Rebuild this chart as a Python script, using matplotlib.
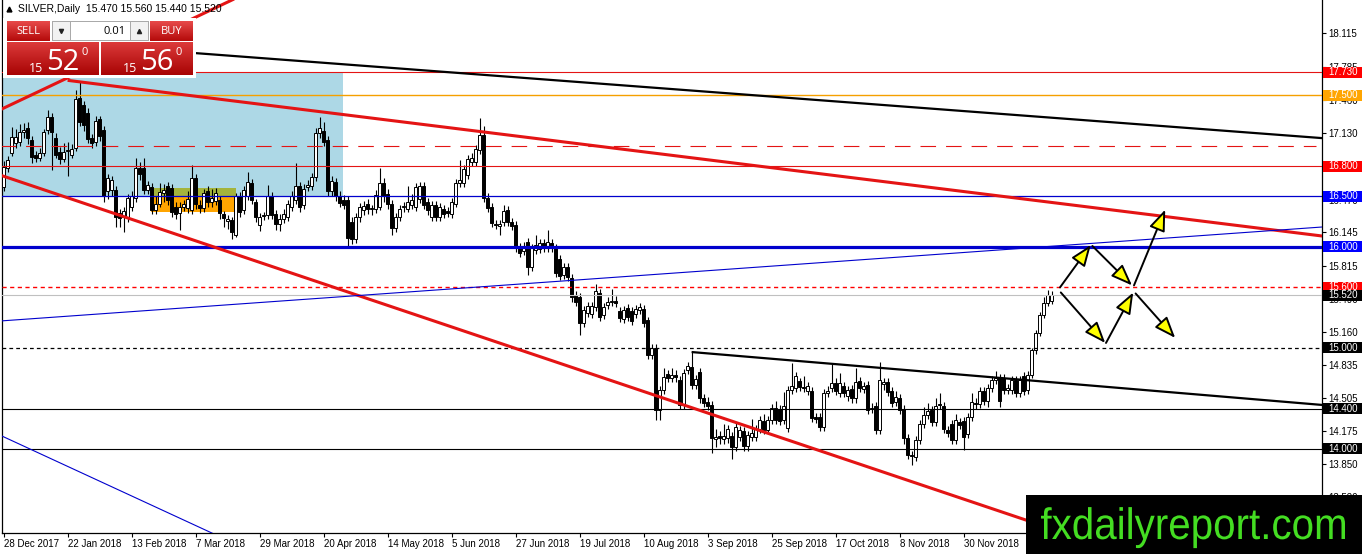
import numpy as np
import matplotlib
matplotlib.use("Agg")
import matplotlib.pyplot as plt
from matplotlib.patches import Rectangle, PathPatch
from matplotlib.textpath import TextPath
from matplotlib.font_manager import FontProperties
from matplotlib.transforms import Affine2D, blended_transform_factory
from matplotlib.colors import LinearSegmentedColormap

plt.rcParams['font.family'] = ['Liberation Sans', 'DejaVu Sans']

# daily SILVER candles, bar 0 = 28 Dec 2017
opens = [
    16.59, 16.78, 16.93, 17.03, 17.04, 17.14, 17.18, 17.06, 16.91, 16.88,
    16.93, 17.16, 17.29, 17.08, 16.94, 16.87, 16.95, 16.91, 16.98, 17.48,
    17.41, 17.33, 17.08, 17.04, 17.27, 17.16, 16.55, 16.56, 16.56, 16.34,
    16.30, 16.29, 16.40, 16.49, 16.78, 16.78, 16.56, 16.59, 16.37, 16.43,
    16.53, 16.60, 16.58, 16.40, 16.34, 16.40, 16.39, 16.37, 16.68, 16.42,
    16.39, 16.55, 16.45, 16.46, 16.47, 16.33, 16.26, 16.27, 16.12, 16.50,
    16.37, 16.50, 16.63, 16.45, 16.22, 16.31, 16.32, 16.50, 16.33, 16.23,
    16.28, 16.30, 16.40, 16.47, 16.60, 16.42, 16.59, 16.60, 16.69, 17.13,
    17.15, 17.06, 16.55, 16.64, 16.50, 16.47, 16.47, 16.25, 16.08, 16.30,
    16.37, 16.43, 16.38, 16.38, 16.40, 16.63, 16.52, 16.43, 16.19, 16.30,
    16.40, 16.38, 16.42, 16.40, 16.48, 16.60, 16.45, 16.30, 16.42, 16.30,
    16.38, 16.36, 16.33, 16.43, 16.63, 16.63, 16.71, 16.84, 16.84, 16.96,
    17.11, 16.49, 16.40, 16.23, 16.21, 16.25, 16.37, 16.25, 16.22, 16.00,
    15.96, 16.05, 15.80, 15.97, 15.98, 16.04, 15.99, 16.04, 15.99, 15.88,
    15.72, 15.80, 15.69, 15.52, 15.50, 15.25, 15.35, 15.34, 15.41, 15.54,
    15.33, 15.43, 15.46, 15.47, 15.37, 15.29, 15.40, 15.37, 15.34, 15.38,
    15.39, 15.28, 14.93, 15.00, 14.39, 14.58, 14.74, 14.70, 14.73, 14.68,
    14.44, 14.78, 14.81, 14.63, 14.76, 14.50, 14.47, 14.44, 14.10, 14.13,
    14.10, 14.11, 14.13, 14.02, 14.12, 14.18, 14.03, 14.12, 14.12, 14.20,
    14.28, 14.19, 14.29, 14.41, 14.40, 14.29, 14.21, 14.58, 14.60, 14.67,
    14.61, 14.57, 14.57, 14.32, 14.32, 14.22, 14.55, 14.60, 14.65, 14.55,
    14.62, 14.52, 14.59, 14.50, 14.67, 14.59, 14.63, 14.40, 14.43, 14.19,
    14.64, 14.66, 14.57, 14.47, 14.50, 14.40, 14.11, 13.94, 13.92, 14.09,
    14.25, 14.34, 14.39, 14.27, 14.45, 14.43, 14.19, 14.25, 14.09, 14.27,
    14.28, 14.15, 14.32, 14.46, 14.45, 14.57, 14.48, 14.60, 14.68, 14.70,
    14.70, 14.58, 14.58, 14.68, 14.55, 14.72, 14.58, 14.73, 14.98, 15.15,
    15.33, 15.45, 15.47]
highs = [
    16.85, 16.90, 17.19, 17.17, 17.22, 17.23, 17.24, 17.10, 16.95, 16.98,
    17.17, 17.36, 17.33, 17.13, 16.99, 17.03, 17.04, 17.02, 17.55, 17.63,
    17.45, 17.38, 17.12, 17.30, 17.30, 17.20, 16.72, 16.70, 16.60, 16.38,
    16.40, 16.52, 16.55, 16.88, 16.84, 16.88, 16.65, 16.63, 16.50, 16.63,
    16.62, 16.64, 16.62, 16.45, 16.45, 16.47, 16.55, 16.81, 16.72, 16.47,
    16.57, 16.60, 16.57, 16.58, 16.50, 16.36, 16.32, 16.30, 16.53, 16.54,
    16.60, 16.74, 16.67, 16.48, 16.34, 16.35, 16.61, 16.54, 16.37, 16.33,
    16.38, 16.47, 16.55, 16.83, 16.64, 16.62, 16.66, 16.73, 17.18, 17.29,
    17.24, 17.10, 16.70, 16.68, 16.55, 16.51, 16.50, 16.30, 16.34, 16.44,
    16.46, 16.48, 16.42, 16.56, 16.78, 16.68, 16.57, 16.47, 16.34, 16.42,
    16.45, 16.60, 16.52, 16.63, 16.64, 16.64, 16.49, 16.46, 16.46, 16.44,
    16.42, 16.40, 16.49, 16.67, 16.86, 16.81, 16.91, 16.93, 17.01, 17.28,
    17.20, 16.53, 16.44, 16.27, 16.27, 16.42, 16.41, 16.29, 16.26, 16.04,
    16.05, 16.09, 16.03, 16.12, 16.08, 16.08, 16.17, 16.08, 16.03, 15.92,
    15.84, 15.84, 15.73, 15.56, 15.54, 15.42, 15.46, 15.46, 15.63, 15.58,
    15.45, 15.50, 15.58, 15.51, 15.41, 15.42, 15.44, 15.41, 15.43, 15.45,
    15.43, 15.31, 15.04, 15.04, 14.62, 14.80, 14.78, 14.80, 14.78, 14.72,
    14.79, 14.86, 14.96, 14.73, 14.80, 14.54, 14.51, 14.48, 14.20, 14.18,
    14.25, 14.24, 14.17, 14.26, 14.23, 14.22, 14.18, 14.30, 14.24, 14.33,
    14.35, 14.33, 14.45, 14.48, 14.44, 14.56, 14.62, 14.85, 14.76, 14.70,
    14.72, 14.66, 14.61, 14.36, 14.36, 14.59, 14.62, 14.85, 14.70, 14.75,
    14.66, 14.62, 14.63, 14.80, 14.71, 14.66, 14.67, 14.46, 14.47, 14.86,
    14.70, 14.70, 14.61, 14.57, 14.54, 14.44, 14.15, 13.98, 14.13, 14.29,
    14.42, 14.46, 14.43, 14.50, 14.55, 14.47, 14.23, 14.29, 14.35, 14.31,
    14.32, 14.36, 14.55, 14.50, 14.61, 14.61, 14.64, 14.72, 14.77, 14.74,
    14.74, 14.64, 14.72, 14.72, 14.72, 14.76, 14.77, 15.00, 15.18, 15.36,
    15.50, 15.57, 15.56]
lows = [
    16.55, 16.74, 16.90, 16.98, 17.00, 17.08, 17.02, 16.83, 16.84, 16.85,
    16.90, 17.12, 16.76, 16.88, 16.82, 16.84, 16.70, 16.88, 16.95, 17.20,
    17.15, 17.03, 16.98, 17.00, 17.05, 16.45, 16.48, 16.50, 16.20, 16.20,
    16.15, 16.25, 16.36, 16.45, 16.66, 16.52, 16.52, 16.33, 16.33, 16.40,
    16.45, 16.42, 16.30, 16.28, 16.17, 16.36, 16.34, 16.33, 16.38, 16.34,
    16.35, 16.40, 16.40, 16.42, 16.28, 16.20, 16.18, 16.08, 16.10, 16.30,
    16.33, 16.47, 16.43, 16.25, 16.16, 16.27, 16.28, 16.28, 16.17, 16.16,
    16.24, 16.26, 16.36, 16.43, 16.35, 16.38, 16.55, 16.56, 16.65, 17.08,
    17.00, 16.50, 16.50, 16.46, 16.40, 16.38, 16.00, 16.03, 16.04, 16.25,
    16.32, 16.33, 16.32, 16.34, 16.37, 16.45, 16.38, 16.12, 16.15, 16.26,
    16.35, 16.35, 16.38, 16.36, 16.44, 16.38, 16.32, 16.26, 16.26, 16.26,
    16.29, 16.30, 16.29, 16.40, 16.59, 16.59, 16.67, 16.80, 16.80, 16.92,
    16.45, 16.35, 16.20, 16.18, 16.12, 16.21, 16.21, 16.17, 15.95, 15.90,
    15.92, 15.72, 15.76, 15.93, 15.94, 15.95, 15.95, 15.95, 15.70, 15.67,
    15.68, 15.66, 15.46, 15.42, 15.13, 15.21, 15.31, 15.30, 15.37, 15.27,
    15.29, 15.39, 15.42, 15.41, 15.26, 15.25, 15.27, 15.23, 15.30, 15.34,
    15.21, 14.89, 14.89, 14.29, 14.29, 14.54, 14.66, 14.66, 14.66, 14.40,
    14.40, 14.74, 14.59, 14.59, 14.46, 14.42, 14.39, 13.96, 14.02, 14.05,
    14.05, 14.06, 13.90, 13.98, 14.08, 13.98, 13.98, 14.08, 14.08, 14.16,
    14.15, 14.15, 14.25, 14.25, 14.24, 14.25, 14.17, 14.54, 14.56, 14.57,
    14.56, 14.53, 14.27, 14.26, 14.18, 14.18, 14.51, 14.56, 14.53, 14.51,
    14.51, 14.48, 14.46, 14.46, 14.56, 14.55, 14.35, 14.36, 14.15, 14.15,
    14.58, 14.52, 14.42, 14.43, 14.35, 14.05, 13.90, 13.84, 13.88, 14.05,
    14.21, 14.30, 14.23, 14.23, 14.40, 14.16, 14.12, 14.05, 14.05, 14.20,
    13.99, 14.11, 14.28, 14.40, 14.41, 14.44, 14.42, 14.56, 14.64, 14.42,
    14.54, 14.54, 14.54, 14.51, 14.51, 14.53, 14.54, 14.70, 14.94, 15.12,
    15.30, 15.42, 15.44]
closes = [
    16.79, 16.86, 17.09, 17.09, 17.14, 17.16, 17.08, 16.89, 16.88, 16.93,
    17.14, 17.29, 17.14, 16.91, 16.87, 16.94, 16.96, 16.97, 17.47, 17.24,
    17.21, 17.07, 17.03, 17.25, 17.10, 16.50, 16.68, 16.66, 16.30, 16.29,
    16.36, 16.49, 16.50, 16.78, 16.72, 16.56, 16.61, 16.37, 16.43, 16.54,
    16.56, 16.47, 16.35, 16.33, 16.40, 16.43, 16.48, 16.68, 16.43, 16.39,
    16.53, 16.45, 16.49, 16.53, 16.34, 16.29, 16.28, 16.15, 16.50, 16.35,
    16.56, 16.64, 16.47, 16.30, 16.30, 16.31, 16.50, 16.32, 16.23, 16.28,
    16.33, 16.43, 16.50, 16.60, 16.40, 16.57, 16.61, 16.69, 17.13, 17.18,
    17.04, 16.55, 16.65, 16.50, 16.44, 16.42, 16.09, 16.08, 16.30, 16.40,
    16.41, 16.38, 16.39, 16.51, 16.63, 16.50, 16.43, 16.19, 16.30, 16.38,
    16.41, 16.45, 16.47, 16.59, 16.60, 16.42, 16.37, 16.42, 16.30, 16.40,
    16.33, 16.34, 16.45, 16.63, 16.66, 16.77, 16.87, 16.88, 16.97, 17.11,
    16.49, 16.39, 16.24, 16.22, 16.23, 16.36, 16.25, 16.21, 15.99, 15.94,
    16.01, 15.80, 15.99, 16.02, 16.04, 15.99, 16.05, 15.99, 15.74, 15.71,
    15.80, 15.70, 15.50, 15.46, 15.25, 15.38, 15.42, 15.42, 15.56, 15.31,
    15.41, 15.46, 15.47, 15.45, 15.30, 15.38, 15.31, 15.27, 15.39, 15.41,
    15.25, 14.93, 15.00, 14.39, 14.58, 14.71, 14.70, 14.73, 14.71, 14.44,
    14.75, 14.82, 14.63, 14.69, 14.50, 14.46, 14.43, 14.11, 14.12, 14.11,
    14.13, 14.20, 14.02, 14.22, 14.19, 14.03, 14.14, 14.16, 14.20, 14.29,
    14.19, 14.29, 14.41, 14.29, 14.28, 14.43, 14.58, 14.62, 14.72, 14.61,
    14.60, 14.62, 14.31, 14.30, 14.22, 14.55, 14.57, 14.65, 14.57, 14.65,
    14.55, 14.58, 14.50, 14.66, 14.60, 14.62, 14.39, 14.41, 14.19, 14.68,
    14.66, 14.56, 14.46, 14.51, 14.39, 14.11, 13.94, 13.93, 14.09, 14.25,
    14.34, 14.38, 14.27, 14.43, 14.44, 14.20, 14.16, 14.09, 14.29, 14.24,
    14.12, 14.32, 14.47, 14.45, 14.57, 14.48, 14.60, 14.68, 14.70, 14.48,
    14.58, 14.60, 14.68, 14.55, 14.68, 14.57, 14.73, 14.98, 15.15, 15.33,
    15.45, 15.52, 15.52]

date_labels = ['28 Dec 2017', '22 Jan 2018', '13 Feb 2018', '7 Mar 2018',
               '29 Mar 2018', '20 Apr 2018', '14 May 2018', '5 Jun 2018',
               '27 Jun 2018', '19 Jul 2018', '10 Aug 2018', '3 Sep 2018',
               '25 Sep 2018', '17 Oct 2018', '8 Nov 2018', '30 Nov 2018']
bars_per_label = 16

price_ticks = [18.115, 17.785, 17.460, 17.130, 16.800, 16.470, 16.145, 15.815,
               15.490, 15.160, 14.835, 14.505, 14.175, 13.850, 13.520]

# levels drawn across the chart, with a tag on the price scale
tag_prices = [17.73, 17.50, 16.80, 16.50, 16.00, 15.60, 15.00, 14.40, 14.00]
dashed_level = 17.00
ask_price = 15.56

# trend lines as (bar, price) end points
red_upper = ([16, 330], [17.65, 16.107])
red_rising = ([-1, 60], [17.356, 18.50])
red_lower = ([-1, 300], [16.714, 12.705])
black_top = ([-1, 330], [18.066, 17.077])
black_low = ([172, 330], [14.96, 14.435])
blue_rising = ([-1, 330], [15.267, 16.199])
blue_low = ([-1, 60], [14.139, 13.023])

# zones (bar0, bar1, price0, price1)
zone_blue = (-1, 84.85, 16.50, 17.73)
zone_orange = (36.85, 58.1, 16.35, 16.50)
zone_olive = (36.85, 58.1, 16.50, 16.58)

# scenario arrows (bar0, price0, bar1, price1)
scenario = [
    (264.1, 15.60, 271.8, 16.02),
    (272.2, 16.01, 282.1, 15.62),
    (282.6, 15.62, 290.4, 16.37),
    (264.3, 15.55, 275.4, 15.05),
    (275.6, 15.05, 282.4, 15.55),
    (283.0, 15.54, 292.9, 15.10),
]

# ---------------------------------------------------------------
W, H = 1362, 554
fig = plt.figure(figsize=(W / 100, H / 100), dpi=100)
fig.patch.set_facecolor('white')
ax = fig.add_axes([2 / W, (H - 533) / H, 1320 / W, 533 / H])
ax.set_xlim(-0.4, 329.6)
ax.set_ylim(16 - 286 / 101, 16 + 247 / 101)

red = '#e41414'
blue = '#0000cd'

# zones
for (b0, b1, p0, p1), col in zip([zone_blue, zone_orange, zone_olive],
                                 ['#add8e6', '#ffa500', '#a4b43c']):
    ax.add_patch(Rectangle((b0, p0), b1 - b0, p1 - p0, facecolor=col,
                           edgecolor='none', zorder=1))

# candles
n = min(len(opens), len(highs), len(lows), len(closes))
o = np.array(opens[:n]); h = np.array(highs[:n])
l = np.array(lows[:n]); c = np.array(closes[:n])
idx = np.arange(n)
ax.vlines(idx, l, h, color='black', lw=0.8, zorder=3)
body_lo = np.minimum(o, c)
body_h = np.maximum(np.abs(c - o), 0.01)
body_col = ['white' if cc >= oo else 'black' for oo, cc in zip(o, c)]
ax.bar(idx, body_h, bottom=body_lo, width=0.62, color=body_col,
       edgecolor='black', linewidth=0.7, zorder=3.2)

# horizontal levels
level_colors = [red, '#f5a000', red, blue, blue, '#ff0000', 'black', 'black', 'black']
level_widths = [0.8, 1.0, 0.8, 0.9, 2.3, 1.0, 0.9, 0.8, 0.8]
level_styles = ['-', '-', '-', '-', '-', (0, (3, 2.5)), (0, (3, 2.5)), '-', '-']
for p, col, lw, ls in zip(tag_prices, level_colors, level_widths, level_styles):
    ax.axhline(p, color=col, lw=lw, ls=ls, zorder=4)
ax.axhline(c[-1], color='#c0c0c0', lw=0.8, zorder=3.9)
ax.hlines(dashed_level, -1, 328, color=red, lw=0.8, ls=(0, (14, 9)), zorder=4)

# trend lines
for (xs, ys), col, lw in [(red_upper, red, 2.2), (red_rising, red, 2.2),
                          (red_lower, red, 2.2), (black_top, 'black', 1.6),
                          (black_low, 'black', 1.6), (blue_rising, blue, 0.8),
                          (blue_low, blue, 0.8)]:
    ax.plot(xs, ys, color=col, lw=lw, zorder=4.5, solid_capstyle='butt')

# scenario arrows
for b0, p0, b1, p1 in scenario:
    ax.annotate('', xy=(b1, p1), xytext=(b0, p0),
                arrowprops=dict(arrowstyle='-|>,head_length=1.3,head_width=0.5',
                                facecolor='yellow', edgecolor='black', lw=1.4,
                                shrinkA=0, shrinkB=0, mutation_scale=10),
                zorder=6)

# axes look
ax.spines['top'].set_visible(False)
for side in ['left', 'bottom', 'right']:
    ax.spines[side].set_linewidth(0.9)
ax.yaxis.tick_right()
ax.set_yticks(price_ticks)
ax.set_yticklabels([f'{t:.3f}' for t in price_ticks])
ax.set_xticks(np.arange(len(date_labels)) * bars_per_label)
ax.set_xticklabels(date_labels)
for lbl in ax.get_xticklabels():
    lbl.set_ha('left')
ax.tick_params(axis='both', direction='out', length=3, width=0.8,
               labelsize=7, pad=1.5, colors='black')

# price tags on the scale (drawn over the tick labels they hide)
trans = blended_transform_factory(ax.transAxes, ax.transData)
tag_colors = ['#ff0000', '#ffa500', '#ff0000', '#0000ff', '#0000ff', '#ff0000',
              'black', 'black', 'black']
half_h = 5.5 / 101
for p, col in zip(tag_prices + [c[-1]], tag_colors + ['black']):
    ax.add_patch(Rectangle((1.0008, p - half_h), 39 / 1320, 2 * half_h,
                           transform=trans, facecolor=col, edgecolor='none',
                           clip_on=False, zorder=8))
    ax.text(1.0045, p, f'{p:.3f}', transform=trans, color='white', fontsize=7,
            ha='left', va='center', clip_on=False, zorder=9)

# ---------------------------------------------------------------
# overlay in pixel coordinates: header, trade panel, watermark
ov = fig.add_axes([0, 0, 1, 1], zorder=10)
ov.patch.set_alpha(0)
ov.axis('off')

ov.plot(8.5, 8.8, marker='^', ms=3.5, color='black', zorder=12)
ov.text(18, 8.5, f'SILVER,Daily  {o[-1]:.3f} {h[-1]:.3f} {l[-1]:.3f} {c[-1]:.3f}',
        fontsize=7.5, va='center', ha='left', zorder=12)

ov.add_patch(Rectangle((3, 18), 193, 60, facecolor='white', edgecolor='none', zorder=11))


def red_box(x0, y0, x1, y1, top='#e84a4a', bottom='#b40a0a'):
    cmap = LinearSegmentedColormap.from_list('btn', [top, bottom])
    ov.imshow(np.linspace(0, 1, 64).reshape(-1, 1), extent=(x0, x1, y1, y0),
              cmap=cmap, aspect='auto', origin='upper', zorder=12,
              interpolation='bilinear')


red_box(7, 21, 50, 41)
red_box(150, 21, 193, 41)
red_box(7, 42, 99, 75, top='#dc3a3a', bottom='#a80404')
red_box(101, 42, 193, 75, top='#dc3a3a', bottom='#a80404')

panel_font = ['Open Sans', 'DejaVu Sans']
ov.text(28.5, 31, 'SELL', color='white', fontsize=8, ha='center', va='center',
        family=panel_font, zorder=13)
ov.text(171.5, 31, 'BUY', color='white', fontsize=8, ha='center', va='center',
        family=panel_font, zorder=13)
ov.add_patch(Rectangle((52, 21), 96, 19, facecolor='white', edgecolor='#a8a8a8',
                       lw=0.7, zorder=12))
for bx in (52, 130):
    ov.add_patch(Rectangle((bx, 21), 18, 19, facecolor='#f2f2f2', edgecolor='#a8a8a8',
                           lw=0.7, zorder=12.5))
ov.plot(61, 31, marker='v', ms=3, color='#222222', zorder=13)
ov.plot(139, 31, marker='^', ms=3, color='#222222', zorder=13)
ov.text(126, 31, '0.01', fontsize=8, ha='right', va='center', family=panel_font,
        zorder=13)

bid_s = f'{c[-1]:.3f}'
ask_s = f'{ask_price:.3f}'
for s, x_mid in [(bid_s, 46), (ask_s, 140)]:
    ov.text(x_mid - 3, 72, s[:2], color='white', fontsize=9, ha='right',
            va='baseline', family=panel_font, zorder=13)
    ov.text(x_mid, 70, s[3:5], color='white', fontsize=21, ha='left',
            va='baseline', family=panel_font, zorder=13)
    ov.text(x_mid + 36, 55, s[5], color='white', fontsize=8, ha='left',
            va='baseline', family=panel_font, zorder=13)

# watermark
ov.add_patch(Rectangle((1026, 495), W - 1026, H - 495, facecolor='black',
                       edgecolor='none', zorder=20))
tp = TextPath((0, 0), 'fxdailyreport.com', size=1,
              prop=FontProperties(family='Liberation Sans'))
ext = tp.get_extents()
sx = 304 / ext.width
tr = Affine2D().translate(-ext.x0, 0).scale(sx, -44).translate(1041, 539) + ov.transData
ov.add_patch(PathPatch(tp, transform=tr, facecolor='#44dd22', edgecolor='none', zorder=21))

ov.set_xlim(0, W)
ov.set_ylim(H, 0)

fig.savefig('out.png', dpi=100)
